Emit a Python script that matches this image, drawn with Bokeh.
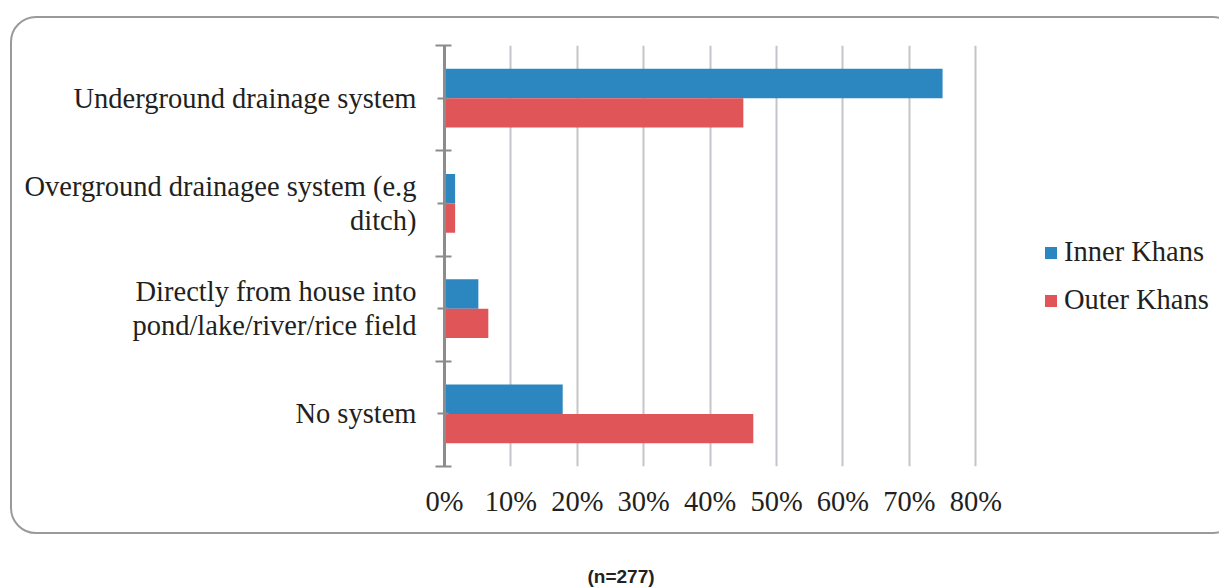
from bokeh.plotting import figure
from bokeh.models import (Range1d, FixedTicker, PrintfTickFormatter, Legend, LegendItem,
                          Title, ColumnDataSource, InlineStyleSheet)
from bokeh.transform import dodge
from bokeh.embed import file_html
from bokeh.resources import INLINE

# ---- data (top to bottom) ----
categories = ["Underground drainage system",
              "Overground drainagee system (e.g\nditch)",
              "Directly from house into\npond/lake/river/rice field",
              "No system"]
inner_khans = [75.0, 1.6, 5.1, 17.8]
outer_khans = [45.0, 1.6, 6.6, 46.5]
series_names = ["Inner Khans", "Outer Khans"]
x_ticks = [0, 10, 20, 30, 40, 50, 60, 70, 80]
note = "(n=277)"

BLUE = "#2C86C0"
RED = "#E05558"
FONT = "Liberation Serif"
TXT = "#231F20"
FS = "28.5px"

n = len(categories)
ypos = [n - 1 - i + 0.5 for i in range(n)]
src = ColumnDataSource(dict(y=ypos, inner=inner_khans, outer=outer_khans, cat=categories))

W, H = 1219, 587
FL, FT, FH = 444, 45, 422
# plot area extends to the right edge so the legend sits inside it; gridlines stop at 80%
p = figure(width=W, height=H, output_backend="svg", toolbar_location=None,
           x_range=Range1d(0, 116.7), y_range=Range1d(0, n),
           min_border_left=FL, min_border_right=0,
           min_border_top=FT, min_border_bottom=H - FT - FH)
p.outline_line_color = None
p.background_fill_color = None
p.border_fill_color = None

bw = 0.28
r1 = p.hbar(y=dodge("y", bw / 2, range=p.y_range), right="inner", left=0, height=bw,
            source=src, fill_color=BLUE, line_color=None)
r2 = p.hbar(y=dodge("y", -bw / 2, range=p.y_range), right="outer", left=0, height=bw,
            source=src, fill_color=RED, line_color=None)

# x axis
p.xaxis.ticker = FixedTicker(ticks=x_ticks)
p.xaxis.formatter = PrintfTickFormatter(format="%d%%")
p.xaxis.axis_line_color = None
p.xaxis.major_tick_line_color = None
p.xaxis.minor_tick_line_color = None
p.xaxis.major_label_text_font = FONT
p.xaxis.major_label_text_font_size = FS
p.xaxis.major_label_text_color = TXT
p.xaxis.major_label_standoff = 13

p.xgrid.ticker = FixedTicker(ticks=x_ticks)
p.xgrid.grid_line_color = "#C4C4CA"
p.xgrid.grid_line_width = 2
p.ygrid.grid_line_color = None

# y axis
bounds = list(range(n + 1))
p.yaxis.ticker = FixedTicker(ticks=ypos, minor_ticks=bounds)
p.yaxis.major_label_overrides = {y: c for y, c in zip(ypos, categories)}
p.yaxis.axis_line_color = "#8C8C8C"
p.yaxis.axis_line_width = 3
p.yaxis.major_tick_line_color = "#8C8C8C"
p.yaxis.major_tick_line_width = 2
p.yaxis.major_tick_in = 4
p.yaxis.major_tick_out = 7
p.yaxis.minor_tick_line_color = "#8C8C8C"
p.yaxis.minor_tick_line_width = 2
p.yaxis.minor_tick_in = 7
p.yaxis.minor_tick_out = 9
p.yaxis.major_label_text_font = FONT
p.yaxis.major_label_text_font_size = FS
p.yaxis.major_label_text_color = TXT
p.yaxis.major_label_text_line_height = 1.1
p.yaxis.major_label_standoff = 19

# legend
legend = Legend(items=[LegendItem(label=series_names[0], renderers=[r1]),
                       LegendItem(label=series_names[1], renderers=[r2])],
                location=(599, 150), orientation="vertical",
                border_line_color=None, background_fill_alpha=0,
                padding=0, margin=0, spacing=16,
                glyph_width=15, glyph_height=15, label_standoff=6,
                label_text_font=FONT, label_text_font_size=FS,
                label_text_color=TXT, label_height=32)
p.add_layout(legend, "center")

# note below (leading blank lines push it down to the bottom of the page)
p.add_layout(Title(text="\n\n" + note, align="left", offset=143, standoff=0,
                   vertical_align="bottom", text_line_height=1.08,
                   text_font="Liberation Sans", text_font_style="bold",
                   text_font_size="19px", text_color="#222222"), "below")

# rounded outer frame of the chart area
p.stylesheets = [InlineStyleSheet(css="""
:host { position: relative; overflow: hidden; }
:host::before {
  content: ""; position: absolute; left: 10px; top: 16px;
  width: 1225px; height: 514px;
  border: 2px solid #9A9A9A; border-radius: 26px; pointer-events: none;
}
""")]

open("out.html", "w").write(file_html(p, INLINE))
